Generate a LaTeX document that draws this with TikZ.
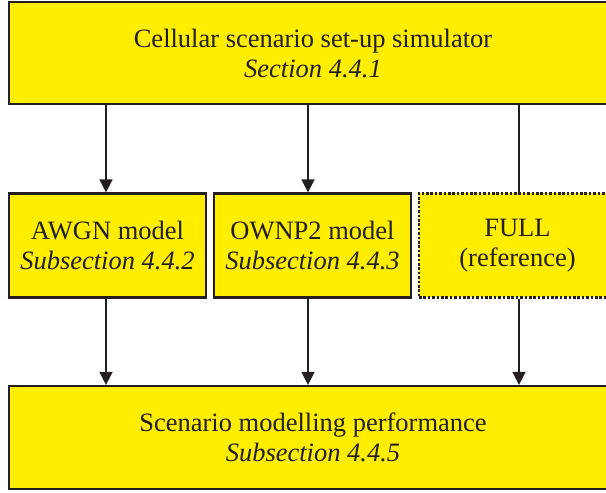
\documentclass[tikz,border=0pt]{standalone}
\usepackage{fontspec}
\setmainfont{Liberation Serif}
\usetikzlibrary{arrows.meta}
\definecolor{boxyellow}{HTML}{FFEE00}
\definecolor{ink}{HTML}{231F20}
\tikzset{
  x=1pt,y=1pt,
  box/.style={draw=ink, line width=2.2pt, fill=boxyellow, align=center, inner sep=0pt,
    font=\fontsize{26.5}{30}\selectfont, text=ink},
  dotbox/.style={box, line width=2.6pt, dash pattern=on 2.6pt off 1.8pt},
  arr/.style={draw=ink, line width=1.5pt, -{Triangle[width=13pt,length=13pt]}},
  plain/.style={draw=ink, line width=1.5pt}
}
\begin{document}
\begin{tikzpicture}
\clip (0,0) rectangle (606,493);
\fill[white] (0,0) rectangle (606,493);
\node[box, minimum width=608, minimum height=102] (top) at (313,440)
  {Cellular scenario set-up simulator\\\textit{Section 4.4.1}};
\node[box, minimum width=197, minimum height=104] (awgn) at (107.5,247.5)
  {AWGN model\\\textit{Subsection 4.4.2}};
\node[box, minimum width=197, minimum height=104] (ownp) at (312.5,247.5)
  {OWNP2 model\\\textit{Subsection 4.4.3}};
\node[dotbox, minimum width=197, minimum height=104] (full) at (517.5,247.5)
  {FULL\\(reference)};
\node[box, minimum width=608, minimum height=103] (bot) at (313,55.5)
  {Scenario modelling performance\\\textit{Subsection 4.4.5}};
\coordinate (a1) at (106,0);
\coordinate (a2) at (308,0);
\coordinate (a3) at (519,0);
\draw[arr] (a1 |- top.south) -- (a1 |- awgn.north);
\draw[arr] (a2 |- top.south) -- (a2 |- ownp.north);
\draw[plain] (a3 |- top.south) -- (a3 |- full.north);
\draw[arr] (a1 |- awgn.south) -- (a1 |- bot.north);
\draw[arr] (a2 |- ownp.south) -- (a2 |- bot.north);
\draw[arr] (a3 |- full.south) -- (a3 |- bot.north);
\end{tikzpicture}
\end{document}
